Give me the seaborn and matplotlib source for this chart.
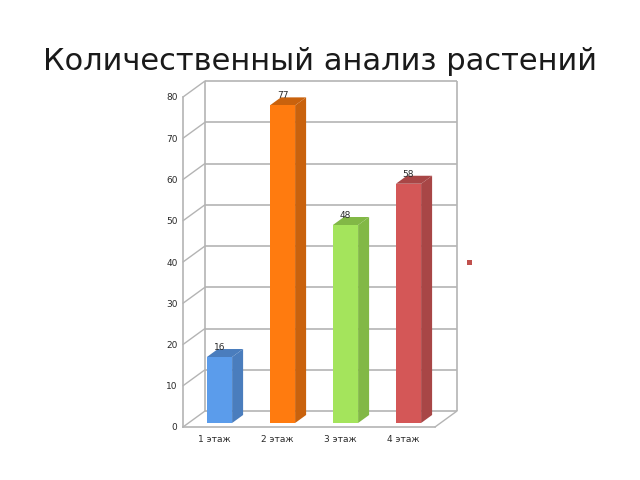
import matplotlib
matplotlib.use("Agg")
import matplotlib.pyplot as plt
import seaborn as sns
from matplotlib.patches import Polygon, Rectangle
from matplotlib.transforms import Affine2D

# === DATA ===
floors = ["1 этаж", "2 этаж", "3 этаж", "4 этаж"]
counts = [16, 77, 48, 58]
y_ticks = [0, 10, 20, 30, 40, 50, 60, 70, 80]
front_colors = ["#5B9CEB", "#FF7B0F", "#A4E45C", "#D45757"]
side_colors = ["#4A7DBD", "#C9620D", "#82B846", "#A84646"]
title = "Количественный анализ растений"

W, H = 640, 480
GRID = "#B4B4B4"

sns.set_style("white")
plt.rcParams["font.family"] = ["DejaVu Sans"]

fig = plt.figure(figsize=(W / 100, H / 100), dpi=100)
# front plane of the fake 3d box, in pixels of the picture
ax = fig.add_axes([183 / W, (H - 427) / H, 252 / W, 330 / H])

sns.barplot(x=floors, y=counts, hue=floors, palette=front_colors, width=0.4,
            legend=False, saturation=1, linewidth=0, ax=ax, zorder=3)
ax.set_xlim(-0.5, 3.5)
ax.set_ylim(0, 80)
ax.set_yticks(y_ticks)
ax.tick_params(axis="y", length=0, pad=4, labelsize=6.5, colors="#2A2A2A")
ax.tick_params(axis="x", length=0, pad=5.5, labelsize=6.5, colors="#2A2A2A")
ax.set_xlabel("")
ax.set_ylabel("")
ax.patch.set_alpha(0)

sns.despine(ax=ax, top=True, right=True)
for side in ["left", "bottom"]:
    ax.spines[side].set_color(GRID)
    ax.spines[side].set_linewidth(1.2)

# === Back wall, shifted from the front plane ===
wall_dx, wall_dy = 22, 16
back = ax.transData + Affine2D().translate(wall_dx, wall_dy)
ax.hlines(y_ticks, -0.5, 3.5, color=GRID, lw=1.2, transform=back, clip_on=False, zorder=1)
ax.vlines([-0.5, 3.5], 0, 80, color=GRID, lw=1.2, transform=back, clip_on=False, zorder=1)

# diagonals on the left wall and the floor
for v in y_ticks:
    ax.plot([-0.5, -0.5 + wall_dx / 63], [v, v + wall_dy / 4.125], color=GRID, lw=1.0,
            clip_on=False, zorder=1)
ax.plot([3.5, 3.5 + wall_dx / 63], [0, wall_dy / 4.125], color=GRID, lw=1.0,
        clip_on=False, zorder=1)

# === Bars: shift into the box and add the side and top faces ===
bar_shift = Affine2D().translate(5, 4)
depth_x, depth_y = 11, 8
fig.canvas.draw()
for bar, n, side_c in zip(ax.patches, counts, side_colors):
    x0, w = bar.get_x(), bar.get_width()
    bar.set_transform(ax.transData + bar_shift)
    bar.set_clip_on(False)

    (lx, by), (rx, ty) = (ax.transData + bar_shift).transform([(x0, 0), (x0 + w, n)])
    side = [(rx, by), (rx + depth_x, by + depth_y), (rx + depth_x, ty + depth_y), (rx, ty)]
    top = [(lx, ty), (rx, ty), (rx + depth_x, ty + depth_y), (lx + depth_x, ty + depth_y)]
    for pts in (side, top):
        ax.add_patch(Polygon(pts, closed=True, facecolor=side_c, edgecolor="none",
                             transform=None, clip_on=False, zorder=2))

    ax.annotate(str(n), xy=(x0 + w / 2, n), xytext=(5, 9), textcoords="offset pixels",
                ha="center", va="bottom", fontsize=6.5, color="#2A2A2A", zorder=4)

# leftover legend marker
fig.add_artist(Rectangle((467 / W, (H - 265) / H), 5 / W, 5 / H, facecolor="#C0504D",
                         edgecolor="none", transform=fig.transFigure))

fig.text(320 / W, (H - 61) / H, title, ha="center", va="center", fontsize=22, color="#1A1A1A")

fig.savefig("out.png", dpi=100)
